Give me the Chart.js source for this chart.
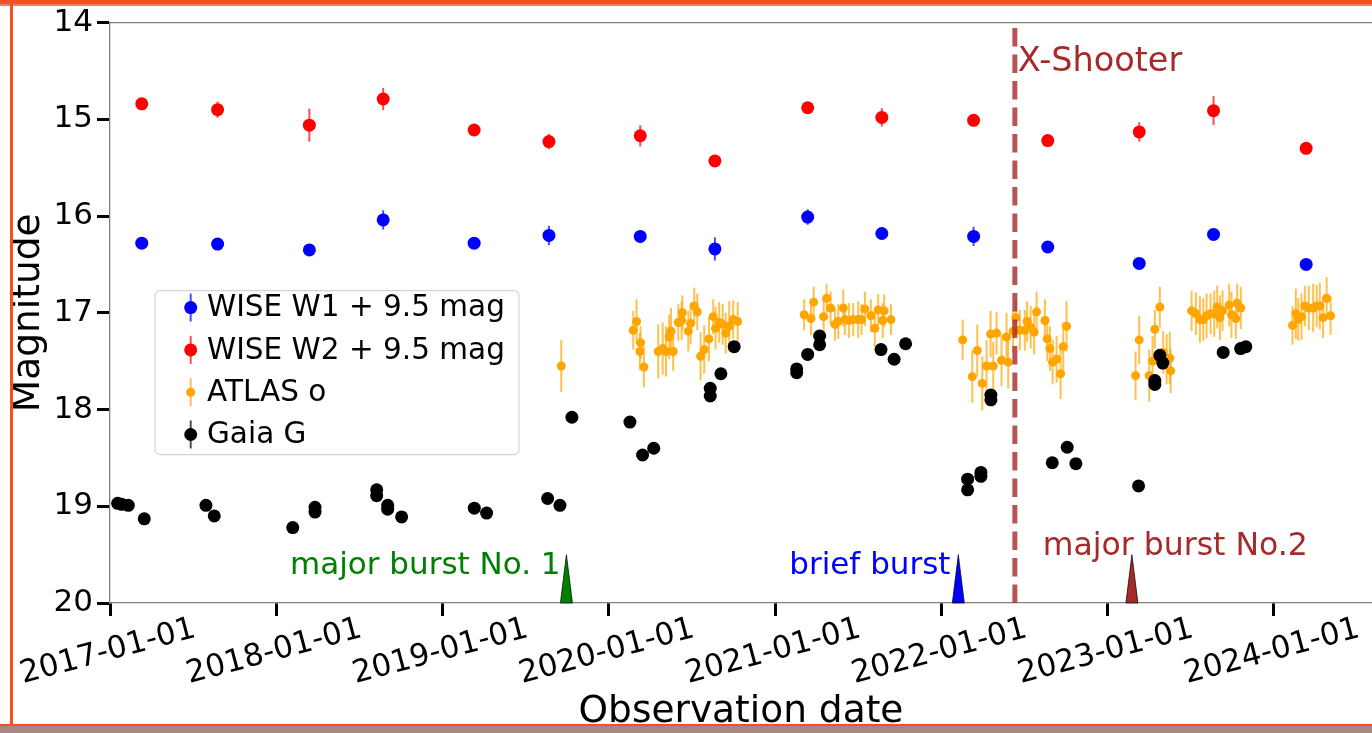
<!DOCTYPE html>
<html>
<head>
<meta charset="utf-8">
<script src="https://cdn.jsdelivr.net/npm/chart.js@4.4.0/dist/chart.umd.min.js"></script>
<style>
  html, body { margin: 0; padding: 0; background: #fff; overflow: hidden; }
  #wrap { position: relative; width: 1372px; height: 733px; }
  canvas { position: absolute; left: 0; top: 0; }
  .edge { position: absolute; }
</style>
</head>
<body>
<div id="wrap">
  <canvas id="lc" width="1372" height="733"></canvas>
  <div class="edge" style="left:0;top:0;width:1372px;height:4px;background:#f4511e"></div>
  <div class="edge" style="left:0;top:4px;width:1372px;height:2px;background:#e9825c"></div>
  <div class="edge" style="left:10px;top:0;width:3px;height:727px;background:#f4511e"></div>
  <div class="edge" style="left:0;top:724px;width:1372px;height:2px;background:#f4511e"></div>
  <div class="edge" style="left:0;top:726px;width:1372px;height:7px;background:#a68783"></div>
</div>
<script>
// dates are decimal years, values are magnitudes
const yearTicks = [2017, 2018, 2019, 2020, 2021, 2022, 2023, 2024];
const magTicks = [14, 15, 16, 17, 18, 19, 20];

// WISE epochs (W1 and W2 share them)
const wiseDate = [2017.191, 2017.647, 2018.199, 2018.643, 2019.190, 2019.640, 2020.189, 2020.638,
                  2021.196, 2021.642, 2022.194, 2022.640, 2023.190, 2023.637, 2024.194];
const w1Mag = [16.28, 16.29, 16.35, 16.04, 16.28, 16.20, 16.21, 16.34, 16.01, 16.18, 16.21, 16.32, 16.49, 16.19, 16.50];
const w1Err = [0.04, 0.04, 0.04, 0.10, 0.05, 0.10, 0.05, 0.12, 0.08, 0.04, 0.10, 0.06, 0.04, 0.04, 0.04];
const w2Mag = [14.84, 14.90, 15.06, 14.79, 15.11, 15.23, 15.17, 15.43, 14.88, 14.98, 15.01, 15.22, 15.13, 14.91, 15.30];
const w2Err = [0.06, 0.085, 0.17, 0.115, 0.04, 0.08, 0.11, 0.04, 0.05, 0.095, 0.04, 0.05, 0.10, 0.15, 0.04];

// ATLAS o
const atlasDate = [2019.714,
  2020.147, 2020.167, 2020.191, 2020.187, 2020.211, 2020.297, 2020.324, 2020.344, 2020.387, 2020.363,
  2020.374, 2020.418, 2020.442, 2020.438, 2020.478, 2020.492, 2020.514, 2020.532, 2020.552, 2020.574,
  2020.602, 2020.628, 2020.642, 2020.664, 2020.685, 2020.703, 2020.724, 2020.748, 2020.775,
  2021.175, 2021.216, 2021.232, 2021.292, 2021.310, 2021.334, 2021.360, 2021.380, 2021.410, 2021.420,
  2021.444, 2021.470, 2021.500, 2021.520, 2021.540, 2021.576, 2021.600, 2021.620, 2021.647, 2021.656, 2021.697,
  2022.128, 2022.186, 2022.216, 2022.246, 2022.272, 2022.296, 2022.312, 2022.332, 2022.362, 2022.392,
  2022.402, 2022.432, 2022.448, 2022.472, 2022.502, 2022.516, 2022.537, 2022.558, 2022.573, 2022.623,
  2022.637, 2022.653, 2022.669, 2022.693, 2022.717, 2022.733, 2022.753,
  2023.168, 2023.190, 2023.250, 2023.270, 2023.284, 2023.314, 2023.334, 2023.355, 2023.374, 2023.379,
  2023.505, 2023.531, 2023.555, 2023.575, 2023.595, 2023.619, 2023.641, 2023.659, 2023.675, 2023.691,
  2023.731, 2023.745, 2023.771, 2023.779, 2023.801,
  2024.112, 2024.132, 2024.146, 2024.166, 2024.186, 2024.210, 2024.236, 2024.257, 2024.276, 2024.296,
  2024.317, 2024.341];
const atlasMag = [17.55,
  17.18, 17.09, 17.31, 17.40, 17.56, 17.40, 17.37, 17.40, 17.40, 17.25,
  17.19, 17.10, 17.00, 17.08, 17.19, 17.11, 16.93, 16.99, 17.45, 17.38,
  17.27, 17.04, 17.16, 17.10, 17.12, 17.21, 17.14, 17.07, 17.09,
  17.02, 17.06, 16.89, 17.04, 16.85, 16.95, 17.12, 17.09, 16.95, 17.07,
  17.08, 17.07, 17.07, 17.07, 16.96, 17.03, 17.16, 16.97, 17.08, 16.98, 17.07,
  17.28, 17.66, 17.39, 17.73, 17.55, 17.22, 17.55, 17.21, 17.49, 17.25,
  17.51, 17.19, 17.05, 17.18, 17.18, 17.09, 17.15, 17.20, 16.99, 17.08,
  17.27, 17.37, 17.51, 17.48, 17.63, 17.35, 17.14,
  17.65, 17.28, 17.65, 17.50, 17.17, 16.94, 17.41, 17.48, 17.47, 17.60,
  16.98, 17.01, 17.07, 17.07, 17.03, 17.01, 17.01, 16.94, 17.05, 16.98,
  16.92, 17.02, 17.06, 16.90, 16.95,
  17.13, 17.01, 17.07, 17.04, 16.93, 16.95, 16.95, 16.93, 16.93, 17.05,
  16.85, 17.03];
const atlasErr = [0.27,
  0.20, 0.23, 0.17, 0.19, 0.21, 0.28, 0.27, 0.26, 0.20, 0.23,
  0.24, 0.19, 0.18, 0.20, 0.21, 0.21, 0.19, 0.19, 0.25, 0.25,
  0.23, 0.18, 0.22, 0.21, 0.21, 0.21, 0.26, 0.20, 0.20,
  0.16, 0.17, 0.16, 0.18, 0.15, 0.17, 0.17, 0.18, 0.19, 0.16,
  0.18, 0.17, 0.19, 0.16, 0.18, 0.17, 0.19, 0.16, 0.18, 0.17, 0.16,
  0.21, 0.27, 0.27, 0.28, 0.27, 0.24, 0.25, 0.22, 0.27, 0.25,
  0.27, 0.22, 0.19, 0.21, 0.21, 0.21, 0.22, 0.23, 0.21, 0.22,
  0.23, 0.23, 0.23, 0.24, 0.26, 0.25, 0.26,
  0.25, 0.25, 0.27, 0.26, 0.20, 0.21, 0.22, 0.26, 0.27, 0.23,
  0.21, 0.22, 0.24, 0.22, 0.23, 0.21, 0.24, 0.22, 0.23, 0.21,
  0.22, 0.24, 0.21, 0.20, 0.22,
  0.20, 0.26, 0.22, 0.24, 0.21, 0.23, 0.25, 0.22, 0.24, 0.21,
  0.22, 0.20];

// Gaia G
const gaiaDate = [2017.046, 2017.070, 2017.110, 2017.206, 2017.577, 2017.627, 2018.099, 2018.233, 2018.233,
  2018.604, 2018.604, 2018.670, 2018.670, 2018.754, 2019.191, 2019.265, 2019.632, 2019.706, 2019.778,
  2020.127, 2020.203, 2020.270, 2020.610, 2020.610, 2020.674, 2020.754, 2021.130, 2021.130, 2021.196,
  2021.268, 2021.268, 2021.637, 2021.716, 2021.785, 2022.158, 2022.158, 2022.238, 2022.238, 2022.298,
  2022.298, 2022.667, 2022.757, 2022.809, 2023.186, 2023.284, 2023.284, 2023.314, 2023.332, 2023.695,
  2023.800, 2023.831];
const gaiaMag = [18.97, 18.98, 18.99, 19.13, 18.99, 19.10, 19.22, 19.01, 19.06,
  18.83, 18.89, 18.99, 19.03, 19.11, 19.02, 19.07, 18.92, 18.99, 18.08,
  18.13, 18.47, 18.40, 17.78, 17.86, 17.63, 17.35, 17.58, 17.62, 17.43,
  17.24, 17.33, 17.38, 17.48, 17.32, 18.72, 18.83, 18.65, 18.69, 17.85,
  17.90, 18.55, 18.39, 18.56, 18.79, 17.70, 17.74, 17.44, 17.52, 17.41,
  17.37, 17.35];

// events
const xshooterDate = 2022.442;
const burstDate = [2019.745, 2022.102, 2023.146];
const burstLabel = ['major burst No. 1', 'brief burst', 'major burst No.2'];

const FONT = 'DejaVu Sans';

function pts(dates, mags) {
  return dates.map((d, i) => ({ x: d, y: mags[i] }));
}

// error bars drawn just before each dataset so markers sit on top
const errorBars = {
  id: 'errorBars',
  beforeDatasetDraw(chart, args) {
    const ds = chart.data.datasets[args.index];
    if (!ds.yErr) return;
    const { ctx, scales: { x, y } } = chart;
    ctx.save();
    ctx.strokeStyle = ds.errColor;
    ctx.lineWidth = 2;
    ds.data.forEach((p, i) => {
      const px = x.getPixelForValue(p.x);
      ctx.beginPath();
      ctx.moveTo(px, y.getPixelForValue(p.y - ds.yErr[i]));
      ctx.lineTo(px, y.getPixelForValue(p.y + ds.yErr[i]));
      ctx.stroke();
    });
    ctx.restore();
  }
};

// X-Shooter line, burst markers and their labels
const events = {
  id: 'events',
  afterDatasetsDraw(chart) {
    const { ctx, chartArea: a, scales: { x, y } } = chart;
    ctx.save();
    const xs = x.getPixelForValue(xshooterDate);
    ctx.strokeStyle = 'rgba(165,42,42,0.8)';
    ctx.lineWidth = 5;
    ctx.setLineDash([18.5, 8]);
    ctx.beginPath();
    ctx.moveTo(xs, a.bottom);
    ctx.lineTo(xs, a.top);
    ctx.stroke();
    ctx.setLineDash([]);

    ctx.textBaseline = 'alphabetic';
    ctx.fillStyle = '#a52a2a';
    ctx.textAlign = 'left';
    ctx.font = '33.5px "' + FONT + '"';
    ctx.fillText('X-Shooter', xs + 3, y.getPixelForValue(14.5));

    const colors = ['#008000', '#0000ff', '#a52a2a'];
    burstDate.forEach((d, i) => {
      const px = x.getPixelForValue(d);
      const tip = y.getPixelForValue(19.5);
      const base = y.getPixelForValue(20);
      ctx.beginPath();
      ctx.moveTo(px - 6, base);
      ctx.lineTo(px, tip);
      ctx.lineTo(px + 6, base);
      ctx.closePath();
      ctx.fillStyle = colors[i];
      ctx.fill();
      ctx.strokeStyle = 'rgba(0,0,0,0.7)';
      ctx.lineWidth = 1;
      ctx.stroke();
    });

    ctx.font = '31px "' + FONT + '"';
    ctx.fillStyle = colors[0];
    ctx.textAlign = 'right';
    ctx.fillText(burstLabel[0], x.getPixelForValue(2019.71), y.getPixelForValue(19.70));
    ctx.fillStyle = colors[1];
    ctx.fillText(burstLabel[1], x.getPixelForValue(2022.055), y.getPixelForValue(19.70));
    ctx.fillStyle = colors[2];
    ctx.textAlign = 'left';
    ctx.font = '31.5px "' + FONT + '"';
    ctx.fillText(burstLabel[2], x.getPixelForValue(2022.61), y.getPixelForValue(19.50));
    ctx.restore();
  }
};

// top spine, rotated date labels, legend box
const frame = {
  id: 'frame',
  afterDraw(chart) {
    const { ctx, chartArea: a, scales: { x } } = chart;
    ctx.save();
    ctx.strokeStyle = '#808080';
    ctx.lineWidth = 1.3;
    ctx.beginPath();
    ctx.moveTo(a.left, a.top);
    ctx.lineTo(a.right, a.top);
    ctx.stroke();

    ctx.fillStyle = '#000';
    ctx.font = '31px "' + FONT + '"';
    ctx.textAlign = 'center';
    ctx.textBaseline = 'middle';
    yearTicks.forEach(v => {
      ctx.save();
      ctx.translate(x.getPixelForValue(v) - 2, a.bottom + 49);
      ctx.rotate(-15 * Math.PI / 180);
      ctx.fillText(v + '-01-01', 0, 0);
      ctx.restore();
    });

    // legend
    const lx = a.left + 45, ly = a.top + 268, lw = 364, lh = 164;
    ctx.beginPath();
    ctx.roundRect(lx, ly, lw, lh, 5);
    ctx.fillStyle = 'rgba(255,255,255,0.8)';
    ctx.fill();
    ctx.strokeStyle = '#d4d4d4';
    ctx.lineWidth = 1.2;
    ctx.stroke();
    ctx.font = '29.5px "' + FONT + '"';
    ctx.textAlign = 'left';
    chart.data.datasets.forEach((ds, i) => {
      const cy = ly + 17 + i * 42.3;
      const mx = lx + 35.7;
      ctx.strokeStyle = ds.errColor;
      ctx.lineWidth = 2;
      ctx.beginPath();
      ctx.moveTo(mx, cy - 14);
      ctx.lineTo(mx, cy + 14);
      ctx.stroke();
      ctx.beginPath();
      ctx.arc(mx, cy, ds.pointRadius, 0, Math.PI * 2);
      ctx.fillStyle = ds.pointBackgroundColor;
      ctx.fill();
      ctx.fillStyle = '#000';
      ctx.fillText(ds.label, lx + 52, cy + 1);
    });
    ctx.restore();
  }
};

new Chart(document.getElementById('lc'), {
  type: 'scatter',
  data: {
    datasets: [
      { label: 'WISE W1 + 9.5 mag', data: pts(wiseDate, w1Mag), yErr: w1Err, order: 4,
        pointRadius: 6.5, pointBackgroundColor: '#0000ff', errColor: 'rgba(0,0,255,0.7)' },
      { label: 'WISE W2 + 9.5 mag', data: pts(wiseDate, w2Mag), yErr: w2Err, order: 3,
        pointRadius: 6.5, pointBackgroundColor: '#ff0000', errColor: 'rgba(255,0,0,0.7)' },
      { label: 'ATLAS o', data: pts(atlasDate, atlasMag), yErr: atlasErr, order: 2,
        pointRadius: 4.5, pointBackgroundColor: '#ffa500', errColor: 'rgba(255,165,0,0.7)' },
      { label: 'Gaia G', data: pts(gaiaDate, gaiaMag), order: 1,
        pointRadius: 6.5, pointBackgroundColor: '#000000', errColor: 'rgba(0,0,0,0.7)' }
    ].map(ds => Object.assign(ds, { pointBorderWidth: 0, pointHoverRadius: ds.pointRadius }))
  },
  options: {
    responsive: false,
    animation: false,
    devicePixelRatio: 1,
    layout: { autoPadding: false, padding: { top: 20, left: 0, right: 0, bottom: 0 } },
    plugins: { legend: { display: false }, tooltip: { enabled: false } },
    scales: {
      x: {
        type: 'linear',
        min: 2017,
        max: 2024.59,
        afterBuildTicks: s => { s.ticks = yearTicks.map(v => ({ value: v })); },
        afterFit: s => { s.height = 130; },
        ticks: { display: false },
        grid: { drawOnChartArea: false, drawTicks: true, tickLength: 13, tickWidth: 3, tickColor: '#000' },
        border: { display: true, color: '#808080', width: 1.3 },
        title: { display: true, text: 'Observation date', color: '#000',
                 font: { family: FONT, size: 37.5, lineHeight: 1.12 }, padding: 0 }
      },
      y: {
        min: 14,
        max: 20,
        reverse: true,
        afterBuildTicks: s => { s.ticks = magTicks.map(v => ({ value: v })); },
        afterFit: s => { s.width = 110; },
        ticks: { color: '#000', padding: 4, font: { family: FONT, size: 31 } },
        grid: { drawOnChartArea: false, drawTicks: true, tickLength: 13, tickWidth: 3, tickColor: '#000' },
        border: { display: true, color: '#808080', width: 1.3 },
        title: { display: true, text: 'Magnitude', color: '#000',
                 font: { family: FONT, size: 37.5 }, padding: { top: 6.5, bottom: 0 } }
      }
    }
  },
  plugins: [errorBars, events, frame]
});
</script>
</body>
</html>
